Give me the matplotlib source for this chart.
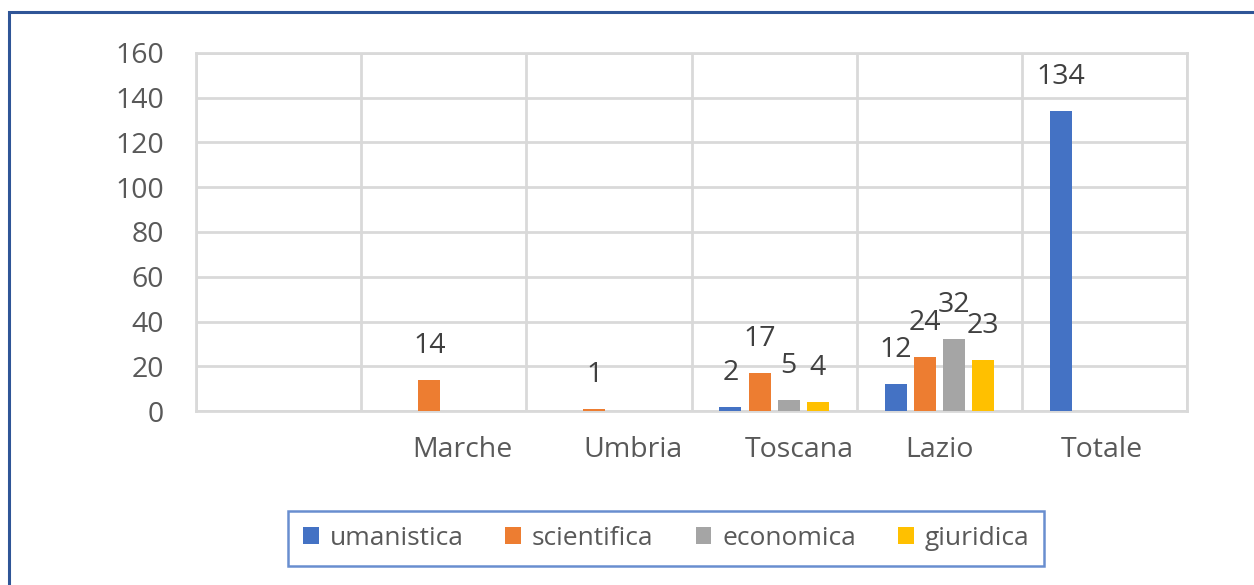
import numpy as np
import matplotlib
matplotlib.use("Agg")
import matplotlib.pyplot as plt
import matplotlib.transforms as mtransforms
from matplotlib.patches import Rectangle

plt.rcParams['font.family'] = ['Open Sans', 'DejaVu Sans']

categories = ["", "Marche", "Umbria", "Toscana", "Lazio", "Totale"]
series_names = ["umanistica", "scientifica", "economica", "giuridica"]
umanistica = [np.nan, np.nan, np.nan, 2, 12, 134]
scientifica = [np.nan, 14, 1, 17, 24, np.nan]
economica = [np.nan, np.nan, np.nan, 5, 32, np.nan]
giuridica = [np.nan, np.nan, np.nan, 4, 23, np.nan]
yticks = [0, 20, 40, 60, 80, 100, 120, 140, 160]

series = [umanistica, scientifica, economica, giuridica]
colors = ["#4472C4", "#ED7D31", "#A5A5A5", "#FFC000"]

W, H = 1254, 585
fig = plt.figure(figsize=(W / 100, H / 100), dpi=100)
ax = fig.add_axes([196 / W, 1 - 411 / H, (1187 - 196) / W, (411 - 53) / H])

x = np.arange(len(categories))
bw = 0.133
step = 0.176
handles = []
for i, (vals, col, name) in enumerate(zip(series, colors, series_names)):
    v = np.array(vals, dtype=float)
    pos = x + (i - 1.5) * step
    b = ax.bar(pos, np.nan_to_num(v), width=bw, color=col, label=name, zorder=3)
    handles.append(b)
    for p, val in zip(pos, v):
        if not np.isnan(val):
            ax.annotate(f"{int(val)}", (p, val), xytext=(0, 34), textcoords='offset pixels',
                        ha='center', va='center', fontsize=20.5, color='#404040', zorder=4)

ax.set_xlim(-0.5, len(categories) - 0.5)
ax.set_ylim(0, 160)
ax.set_yticks(yticks)
ax.set_yticklabels([str(t) for t in yticks])
ax.set_xticks(x)
ax.set_xticklabels(categories)
ax.set_xticks(np.arange(-0.5, len(categories)), minor=True)

grid_col = "#D9D9D9"
ax.grid(axis='y', which='major', color=grid_col, linewidth=2.0, zorder=0)
ax.grid(axis='x', which='minor', color=grid_col, linewidth=2.0, zorder=0)
ax.grid(axis='x', which='major', visible=False)
for s in ax.spines.values():
    s.set_color(grid_col)
    s.set_linewidth(2.0)
    s.set_zorder(0)

ax.tick_params(axis='both', which='both', length=0)
ax.tick_params(axis='y', labelsize=20.5, labelcolor='#595959', pad=23)
ax.tick_params(axis='x', labelsize=20.5, labelcolor='#595959', pad=18)

# nudge category labels to match the reference placement
offsets_px = [0, 19, 24, 25, 0, -3]
for lab, dx in zip(ax.get_xticklabels(), offsets_px):
    lab.set_transform(lab.get_transform() + mtransforms.Affine2D().translate(dx, 0))

leg = fig.legend(handles=handles, labels=series_names, loc='center',
                 bbox_to_anchor=(666 / W, 1 - 538.5 / H), ncol=4, frameon=True,
                 fancybox=False, fontsize=19, handlelength=0.6, handleheight=0.6,
                 handletextpad=0.4, columnspacing=1.6, borderpad=0.55,
                 labelcolor='#595959')
leg.get_frame().set_edgecolor('#4472C4')
leg.get_frame().set_linewidth(1.8)

# outer chart border (extends past right and bottom edges)
fig.patches.append(Rectangle((9 / W, -0.2), 2.0, 1.2 - 12 / H, transform=fig.transFigure,
                             fill=False, edgecolor='#2F5597', linewidth=2.2))

fig.savefig("out.png", dpi=100)
